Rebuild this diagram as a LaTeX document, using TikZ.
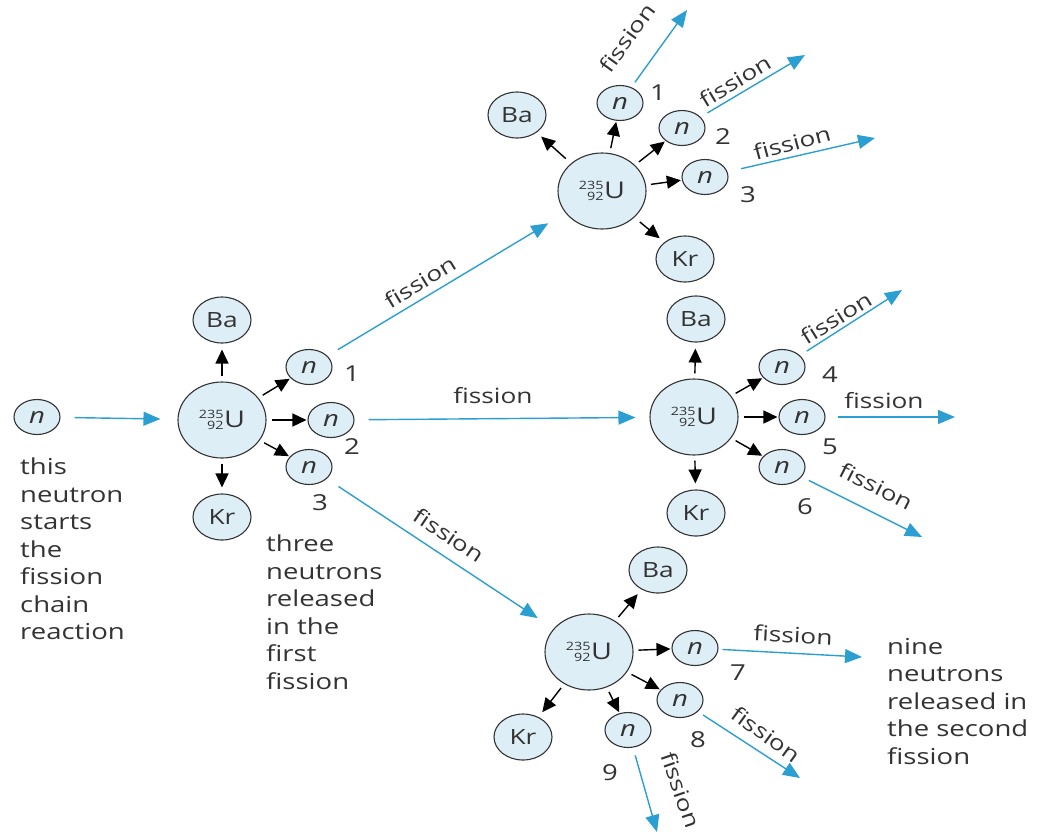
\documentclass[tikz,border=0pt]{standalone}
\usepackage{fontspec}
\setmainfont{Open Sans}[FakeStretch=1.25]
\usetikzlibrary{shapes.geometric,arrows.meta}
\definecolor{ink}{HTML}{333333}
\definecolor{nucfill}{HTML}{DDEEF7}
\definecolor{fblue}{HTML}{2C9FD2}
\newcommand{\isoU}{\raisebox{-2pt}{\fontsize{11.5}{10}\selectfont\shortstack[r]{235\\92}}\kern0.5pt U}
\tikzset{
  nuc/.style={ellipse, draw=ink, line width=1.1pt, fill=nucfill, inner sep=0pt, text=ink},
  uran/.style={nuc, minimum width=88pt, minimum height=76pt, font=\fontsize{23}{23}\selectfont},
  frag/.style={nuc, minimum width=58pt, minimum height=46pt, font=\fontsize{21}{21}\selectfont},
  neut/.style={nuc, minimum width=46pt, minimum height=35pt, font=\fontsize{22}{22}\selectfont\itshape},
  num/.style={text=ink, font=\fontsize{22}{22}\selectfont, inner sep=0pt},
  flab/.style={text=ink, font=\fontsize{21}{21}\selectfont, inner sep=0pt},
  note/.style={text=ink, font=\fontsize{22}{27.5}\selectfont, align=left, inner sep=0pt, anchor=north west},
  blk/.style={draw=black, line width=1.4pt, -{Triangle[length=14pt,width=13pt]}, shorten <=5pt, shorten >=1pt},
  blkf/.style={blk, shorten >=6pt},
  fis/.style={draw=fblue, line width=1.4pt, -{Triangle[length=17pt,width=14pt]}},
}
\begin{document}
\begin{tikzpicture}[x=1pt,y=-1pt]
\useasboundingbox (0,0) rectangle (1038,836);

% ---------- first fission ----------
\node[neut] (n0) at (37,417) {n};
\node[uran] (U1) at (222,420) {\isoU};
\node[frag] (Ba1) at (222,320) {Ba};
\node[frag] (Kr1) at (222,517) {Kr};
\node[neut] (a1) at (309,367) {n};
\node[neut] (a2) at (331,420) {n};
\node[neut] (a3) at (309,467) {n};
\node[num] (la1) at (352,374) {1};
\node[num] (la2) at (352,447) {2};
\node[num] (la3) at (320,503) {3};

% ---------- top fission ----------
\node[uran] (U2) at (602,191) {\isoU};
\node[frag] (Ba2) at (517,115) {Ba};
\node[frag] (Kr2) at (685,259) {Kr};
\node[neut] (b1) at (620,103) {n};
\node[neut] (b2) at (682,128) {n};
\node[neut] (b3) at (705,177) {n};
\node[num] (lb1) at (658,93) {1};
\node[num] (lb2) at (723,137) {2};
\node[num] (lb3) at (748,195) {3};

% ---------- middle fission ----------
\node[uran] (U4) at (694,417) {\isoU};
\node[frag] (Ba4) at (696,319) {Ba};
\node[frag] (Kr4) at (696,513) {Kr};
\node[neut] (c4) at (782,367) {n};
\node[neut] (c5) at (802,417) {n};
\node[neut] (c6) at (782,467) {n};
\node[num] (lc4) at (830,375) {4};
\node[num] (lc5) at (830,447) {5};
\node[num] (lc6) at (805,507) {6};

% ---------- bottom fission ----------
\node[uran] (U3) at (589,652) {\isoU};
\node[frag] (Ba3) at (658,570) {Ba};
\node[frag] (Kr3) at (523,737) {Kr};
\node[neut] (d7) at (695,648) {n};
\node[neut] (d8) at (680,700) {n};
\node[neut] (d9) at (628,730) {n};
\node[num] (ld7) at (738,673) {7};
\node[num] (ld8) at (698,740) {8};
\node[num] (ld9) at (610,773) {9};

% ---------- black product arrows ----------
\draw[blkf] (U1) -- (Ba1);
\draw[blkf] (U1) -- (Kr1);
\draw[blk] (U1) -- (a1);
\draw[blk] (U1) -- (a2);
\draw[blk] (U1) -- (a3);

\draw[blkf, shorten <=7pt] (U2) -- (Ba2);
\draw[blkf, shorten <=7pt] (U2) -- (Kr2);
\draw[blk] (U2) -- (b1);
\draw[blk] (U2) -- (b2);
\draw[blk] (U2) -- (b3);

\draw[blkf] (U4) -- (Ba4);
\draw[blkf] (U4) -- (Kr4);
\draw[blk] (U4) -- (c4);
\draw[blk] (U4) -- (c5);
\draw[blk] (U4) -- (c6);

\draw[blkf] (U3) -- (Ba3);
\draw[blkf] (U3) -- (Kr3);
\draw[blk] (U3) -- (d7);
\draw[blk] (U3) -- (d8);
\draw[blk] (U3) -- (d9);

% ---------- blue fission arrows ----------
\draw[fis, shorten <=14pt, shorten >=17pt] (n0) -- (U1);
\draw[fis, shorten <=12pt, shorten >=20pt] (a1) -- (U2);
\draw[fis, shorten <=14pt, shorten >=14pt] (a2) -- (U4);
\draw[fis, shorten <=14pt, shorten >=19pt] (a3) -- (U3);

\coordinate (t1) at (687,10);
\coordinate (t2) at (805,55);
\coordinate (t3) at (875,138);
\coordinate (t4) at (902,290);
\coordinate (t5) at (955,417);
\coordinate (t6) at (922,537);
\coordinate (t7) at (862,657);
\coordinate (t8) at (800,778);
\coordinate (t9) at (657,832);

\draw[fis, shorten <=6pt] (b1) -- (t1);
\draw[fis, shorten <=8pt] (b2) -- (t2);
\draw[fis, shorten <=14pt] (b3) -- (t3);
\draw[fis, shorten <=8pt] (c4) -- (t4);
\draw[fis, shorten <=12pt] (c5) -- (t5);
\draw[fis, shorten <=8pt] (c6) -- (t6);
\draw[fis, shorten <=4pt] (d7) -- (t7);
\draw[fis, shorten <=6pt] (d8) -- (t8);
\draw[fis, shorten <=8pt] (d9) -- (t9);

% ---------- fission labels ----------
\node[flab, rotate=31.5] (f1) at (420,282) {fission};
\node[flab] (f2) at (493,396) {fission};
\node[flab, rotate=-34] (f3) at (449,535) {fission};
\node[flab, rotate=54] (f4) at (627,38) {fission};
\node[flab, rotate=31] (f5) at (735,81) {fission};
\node[flab, rotate=15] (f6) at (792,143) {fission};
\node[flab, rotate=32] (f7) at (836,318) {fission};
\node[flab] (f8) at (884,401) {fission};
\node[flab, rotate=-27] (f9) at (876,486) {fission};
\node[flab, rotate=-3] (f10) at (793,635) {fission};
\node[flab, rotate=-36] (f11) at (766,734) {fission};
\node[flab, rotate=-71] (f12) at (681,790) {fission};

% ---------- notes ----------
\node[note] (txt1) at (20,458) {this\\neutron\\starts\\the\\fission\\chain\\reaction};
\node[note] (txt2) at (266,535) {three\\neutrons\\released\\in the\\first\\fission};
\node[note] (txt3) at (887,638) {nine\\neutrons\\released in\\the second\\fission};
\end{tikzpicture}
\end{document}
